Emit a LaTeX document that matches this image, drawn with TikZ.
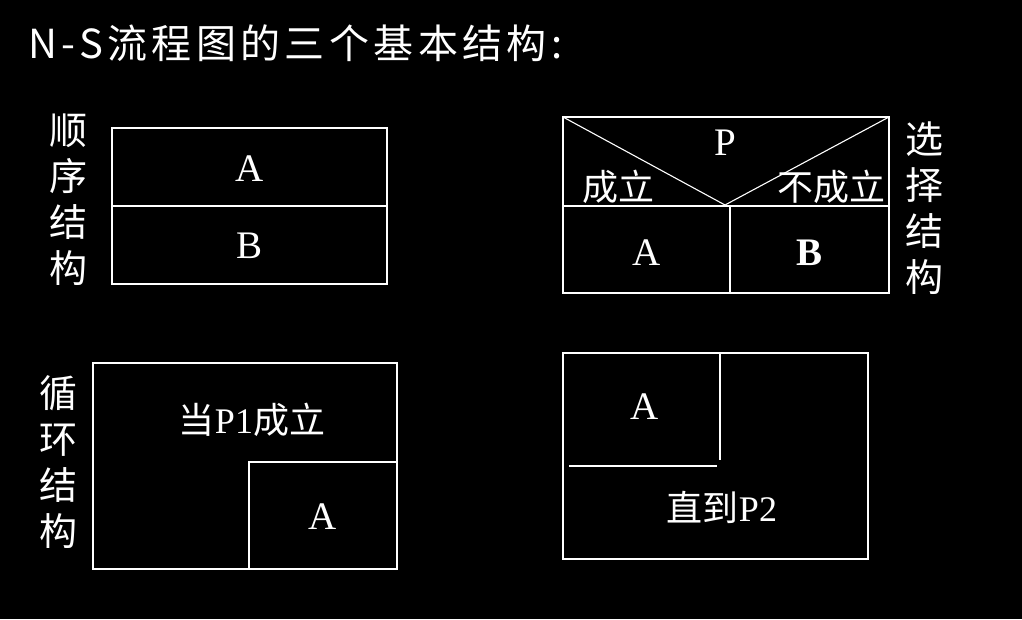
\documentclass[tikz,border=0pt]{standalone}
\usepackage{fontspec}
\setmainfont{Liberation Serif}
\newfontfamily\cjk{Noto Sans CJK SC}
\newfontfamily\cjktitle[LetterSpace=11]{Noto Sans CJK SC}
\usepackage{xcolor}
\usepackage{tikz}
\usetikzlibrary{positioning}
\tikzset{
  nsbox/.style={draw=white,line width=1.3pt},
  nsline/.style={draw=white,line width=1.1pt},
  boxtext/.style={text=white,inner sep=0pt,font=\fontsize{39}{44}\selectfont},
  cjktext/.style={text=white,inner sep=0pt,font=\cjk\fontsize{36}{40}\selectfont},
  sidelabel/.style={text=white,inner sep=0pt,align=center,font=\cjk\fontsize{38}{46}\selectfont},
}

\begin{document}
\begin{tikzpicture}[x=1pt,y=-1pt]
  \useasboundingbox[fill=black] (0,0) rectangle (1022,619);
  \node[text=white,inner sep=0pt,anchor=west,font=\cjktitle\fontsize{40}{44}\selectfont] (title) at (28,43) {N-S流程图的三个基本结构:};
  % sequence
  \draw[nsbox] (112,128) rectangle (387,284);
  \draw[nsline] (112,206) -- (387,206);
  \node[boxtext] (seqA) at (250,169) {A};
  \node[boxtext] (seqB) at (250,246) {B};
  \node[sidelabel] (seqlab) at (68,200) {顺\\序\\结\\构};
  % selection
  \draw[nsbox] (563,117) rectangle (889,293);
  \draw[nsline] (563,206) -- (889,206);
  \draw[nsline] (730,206) -- (730,293);
  \coordinate (selV) at (725,205);
  \draw[nsline] (563,117) -- (selV) -- (889,117);
  \node[boxtext] (selP) at (725,143) {P};
  \node[cjktext] (selyes) at (618,187) {成立};
  \node[cjktext] (selno) at (831,187) {不成立};
  \node[boxtext] (selA) at (647,253) {A};
  \node[boxtext,font=\bfseries\fontsize{39}{44}\selectfont] (selB) at (809,253) {B};
  \node[sidelabel] (sellab) at (924,208) {选\\择\\结\\构};
  % while loop
  \draw[nsbox] (93,363) rectangle (397,569);
  \draw[nsline] (249,569) -- (249,462) -- (397,462);
  \node[cjktext] (whilecond) at (252,420) {当\fontspec{Liberation Serif}P1\cjk 成立};
  \node[boxtext] (whileA) at (323,517) {A};
  \node[sidelabel] (whilelab) at (58,462) {循\\环\\结\\构};
  % until loop
  \draw[nsbox] (563,353) rectangle (868,559);
  \draw[nsline] (720,353) -- (720,460);
  \draw[nsline] (569,466) -- (717,466);
  \node[boxtext] (untilA) at (645,407) {A};
  \node[cjktext] (untilcond) at (722,507) {直到\fontspec{Liberation Serif}P2};
\end{tikzpicture}
\end{document}
